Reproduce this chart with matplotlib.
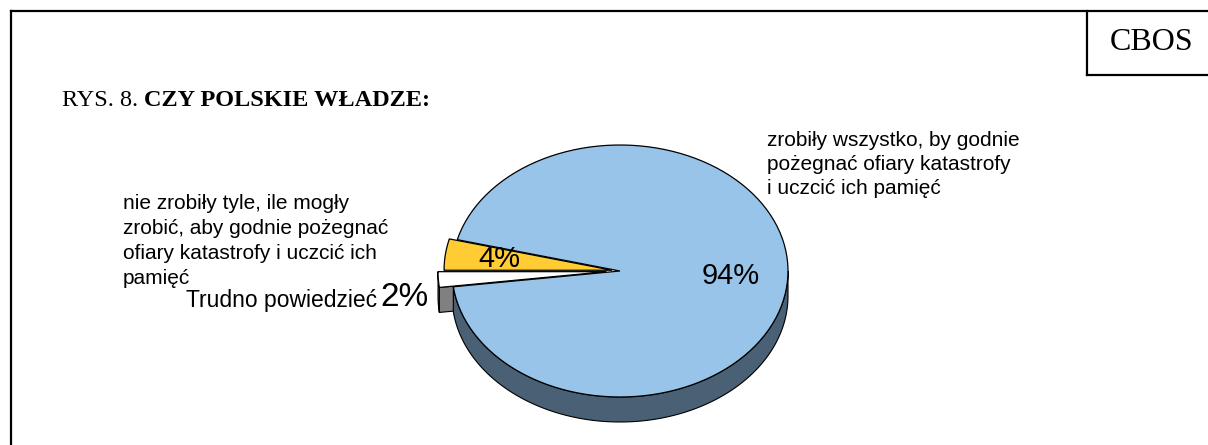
import numpy as np
import matplotlib.pyplot as plt
from matplotlib.patches import Polygon

# ----------------------------
# data
# ----------------------------
slice_labels = [
    "nie zrobiły tyle, ile mogły\nzrobić, aby godnie pożegnać\nofiary katastrofy i uczcić ich\npamięć",
    "Trudno powiedzieć",
    "zrobiły wszystko, by godnie\npożegnać ofiary katastrofy\ni uczcić ich pamięć",
]
slice_values = [4, 2, 94]
pct_texts = ["4%", "2%", "94%"]
title_plain = "RYS. 8. "
title_bold = "CZY POLSKIE WŁADZE:"
corner_text = "CBOS"

# ----------------------------
# style / geometry (pixel space)
# ----------------------------
W, H = 1208, 445
CX, CY = 620, 271
RX, RY = 168, 126
DEPTH = 25
START = 165.6
top_colors = ["#FFCC33", "#FFFFFF", "#97C4E8"]
side_colors = ["#B38F24", "#808080", "#4A6075"]
explode = [8, 14, 0]

fig = plt.figure(figsize=(W / 100, H / 100), dpi=100)
ax = fig.add_axes([0, 0, 1, 1])
ax.set_xlim(0, W)
ax.set_ylim(H, 0)
ax.axis("off")


def arc(cx, cy, t1, t2, n=120):
    t = np.radians(np.linspace(t1, t2, n))
    return cx + RX * np.cos(t), cy - RY * np.sin(t)


# slice angles from values
angles = []
a = START
for v in slice_values:
    angles.append((a, a + v * 3.6))
    a += v * 3.6

offsets = []
for (t1, t2), e in zip(angles, explode):
    mid = np.radians((t1 + t2) / 2)
    offsets.append((e * np.cos(mid), -e * np.sin(mid) * RY / RX))

# radial cut faces of exploded slices (lower edge, seen from the front)
for (t1, t2), (dx, dy), sc, e in zip(angles, offsets, side_colors, explode):
    if e == 0:
        continue
    t = t2 % 360
    if 180 < t < 360:
        ox, oy = arc(CX + dx, CY + dy, t, t, n=1)
        pts = [(CX + dx, CY + dy), (ox[0], oy[0]),
               (ox[0], oy[0] + DEPTH), (CX + dx, CY + dy + DEPTH)]
        ax.add_patch(Polygon(pts, closed=True, facecolor=sc,
                             edgecolor="black", lw=0.8, zorder=1))

# outer walls (front half only)
for (t1, t2), (dx, dy), sc in zip(angles, offsets, side_colors):
    for k in (0, 1):
        lo = max(t1, 180 + 360 * k)
        hi = min(t2, 360 + 360 * k)
        if hi <= lo:
            continue
        x, y = arc(CX + dx, CY + dy, lo, hi)
        xs = np.concatenate([x, x[::-1]])
        ys = np.concatenate([y, y[::-1] + DEPTH])
        ax.add_patch(Polygon(np.column_stack([xs, ys]), closed=True,
                             facecolor=sc, edgecolor="black", lw=0.8, zorder=2))

# top faces
for (t1, t2), (dx, dy), tc in zip(angles, offsets, top_colors):
    x, y = arc(CX + dx, CY + dy, t1, t2)
    xs = np.concatenate([[CX + dx], x])
    ys = np.concatenate([[CY + dy], y])
    ax.add_patch(Polygon(np.column_stack([xs, ys]), closed=True,
                         facecolor=tc, edgecolor="black", lw=0.9, zorder=3))

# ----------------------------
# labels
# ----------------------------
sans = "Liberation Sans"
serif = "Liberation Serif"

ax.text(499, 259, pct_texts[0], fontsize=21, family=sans, ha="center", va="center", zorder=5)
ax.text(731, 276, pct_texts[2], fontsize=21, family=sans, ha="center", va="center", zorder=5)
ax.text(380, 306, pct_texts[1], fontsize=24, family=sans, ha="left", va="baseline", zorder=5)

ax.text(123, 194, slice_labels[0], fontsize=15, family=sans, ha="left", va="top",
        linespacing=1.41, zorder=5)
ax.text(186, 307, slice_labels[1], fontsize=16.5, family=sans, ha="left", va="baseline", zorder=5)
ax.text(767, 131, slice_labels[2], fontsize=15, family=sans, ha="left", va="top",
        linespacing=1.34, zorder=5)

# title in two parts (regular + bold)
t1 = ax.text(62, 106, title_plain, fontsize=17.5, family=serif, ha="left", va="baseline")
fig.canvas.draw()
bb = t1.get_window_extent(renderer=fig.canvas.get_renderer())
x_end = ax.transData.inverted().transform((bb.x1, bb.y0))[0]
ax.text(x_end, 106, title_bold, fontsize=17.5, family=serif, fontweight="bold",
        ha="left", va="baseline")

ax.text(1152, 43, corner_text, fontsize=23, family=serif, ha="center", va="center")

# frame lines
ax.plot([11, 11], [H, 11], color="black", lw=1.6, solid_capstyle="projecting")
ax.plot([11, W], [11, 11], color="black", lw=1.6, solid_capstyle="projecting")
ax.plot([1087, 1087], [11, 75], color="black", lw=1.6)
ax.plot([1087, W], [75, 75], color="black", lw=1.6)

fig.savefig("out.png", dpi=100)
